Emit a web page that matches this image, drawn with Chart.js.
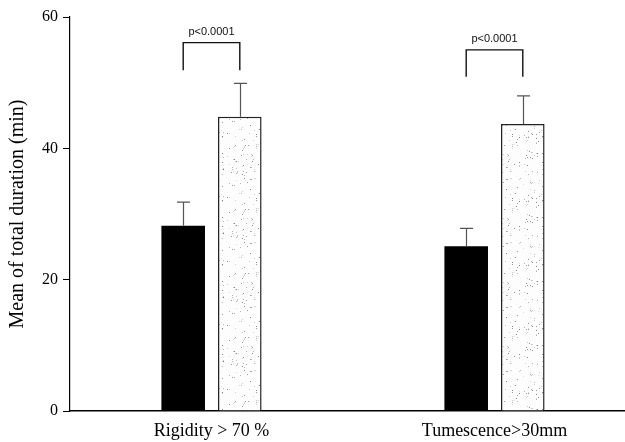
<!DOCTYPE html>
<html>
<head>
<meta charset="utf-8">
<script src="https://cdn.jsdelivr.net/npm/chart.js@4"></script>
<style>
html,body{margin:0;padding:0;background:#fff;overflow:hidden;width:625px;height:442px;}
canvas{display:block;}
</style>
</head>
<body>
<canvas id="c" width="642" height="442"></canvas>
<script>
// ---- data ----
const categories = ["Rigidity > 70 %", "Tumescence>30mm"];
const seriesA = [28.2, 25.1];        // black bars
const seriesB = [44.8, 43.7];        // dotted bars
const errorA = [3.6, 2.7];           // upper error (SE)
const errorB = [5.1, 4.3];
const bracketTop = [56.1, 55.0];
const bracketDrop = [51.9, 50.9];
const pLabels = ["p<0.0001", "p<0.0001"];
const yTicks = [0, 20, 40, 60];

// deterministic speckle pattern
function makePattern(ctx) {
  const pc = document.createElement('canvas');
  pc.width = 64; pc.height = 64;
  const g = pc.getContext('2d');
  g.fillStyle = '#fdfdfd';
  g.fillRect(0, 0, 64, 64);
  let s = 12345;
  function rnd() { s = (s * 1103515245 + 12345) % 2147483648; return s / 2147483648; }
  const shades = ['#9a9a9a', '#b5b5b5', '#c8c8c8', '#d6d6d6', '#888'];
  for (let i = 0; i < 150; i++) {
    const x = Math.floor(rnd() * 64), y = Math.floor(rnd() * 64);
    g.fillStyle = shades[Math.floor(rnd() * shades.length)];
    g.fillRect(x, y, 1, 1);
  }
  return ctx.createPattern(pc, 'repeat');
}

const canvas = document.getElementById('c');
const ctx = canvas.getContext('2d');
const pattern = makePattern(ctx);

const annot = {
  id: 'annot',
  afterDatasetsDraw(chart) {
    const c = chart.ctx;
    const y = chart.scales.y;
    const mA = chart.getDatasetMeta(0).data;
    const mB = chart.getDatasetMeta(1).data;
    c.save();
    function eb(el, v, e) {
      const x = Math.round(el.x) + 0.5;
      const y0 = y.getPixelForValue(v), y1 = y.getPixelForValue(v + e);
      c.strokeStyle = '#555';
      c.lineWidth = 1.2;
      c.beginPath();
      c.moveTo(x, y0); c.lineTo(x, y1);
      c.moveTo(x - 6.5, y1); c.lineTo(x + 6.5, y1);
      c.stroke();
    }
    for (let i = 0; i < categories.length; i++) {
      eb(mA[i], seriesA[i], errorA[i]);
      eb(mB[i], seriesB[i], errorB[i]);
      const xl = mA[i].x, xr = mB[i].x;
      const yt = y.getPixelForValue(bracketTop[i]);
      const yd = y.getPixelForValue(bracketDrop[i]);
      c.strokeStyle = '#111';
      c.lineWidth = 1.4;
      c.beginPath();
      c.moveTo(xl, yd); c.lineTo(xl, yt); c.lineTo(xr, yt); c.lineTo(xr, yd);
      c.stroke();
      c.fillStyle = '#111';
      c.font = '11px "Liberation Sans", Arial, sans-serif';
      c.textAlign = 'center';
      c.textBaseline = 'bottom';
      c.fillText(pLabels[i], (xl + xr) / 2, yt - 5);
    }
    c.restore();
  }
};

const serif = '"Liberation Serif", "Times New Roman", serif';

new Chart(ctx, {
  type: 'bar',
  data: {
    labels: categories,
    datasets: [
      { data: seriesA, backgroundColor: '#000', borderWidth: 0,
        categoryPercentage: 0.4, barPercentage: 0.77 },
      { data: seriesB, backgroundColor: pattern, borderColor: '#222',
        borderWidth: { left: 1.5, right: 1.5, top: 1.5, bottom: 0 },
        categoryPercentage: 0.4, barPercentage: 0.77 }
    ]
  },
  options: {
    responsive: false,
    devicePixelRatio: 1,
    animation: false,
    layout: { padding: { top: 17, right: 6, left: 0, bottom: 0 } },
    plugins: { legend: { display: false }, tooltip: { enabled: false } },
    scales: {
      x: {
        grid: { display: false, drawTicks: false },
        border: { color: '#000', width: 1.5 },
        ticks: { color: '#000', padding: 9, font: { family: serif, size: 18 } },
        afterFit(s) { s.height = 31; }
      },
      y: {
        min: 0, max: 60,
        afterBuildTicks(s) { s.ticks = yTicks.map(v => ({ value: v })); },
        grid: { drawOnChartArea: false, drawTicks: true, tickLength: 7, color: '#000' },
        border: { color: '#000', width: 1.2 },
        ticks: { color: '#000', padding: 5, font: { family: serif, size: 16 } },
        title: { display: true, text: 'Mean of total duration (min)', color: '#000',
          padding: { top: 6, bottom: 0 },
          font: { family: serif, size: 20 } },
        afterFit(s) { s.width = 70; }
      }
    }
  },
  plugins: [annot]
});
</script>
</body>
</html>
